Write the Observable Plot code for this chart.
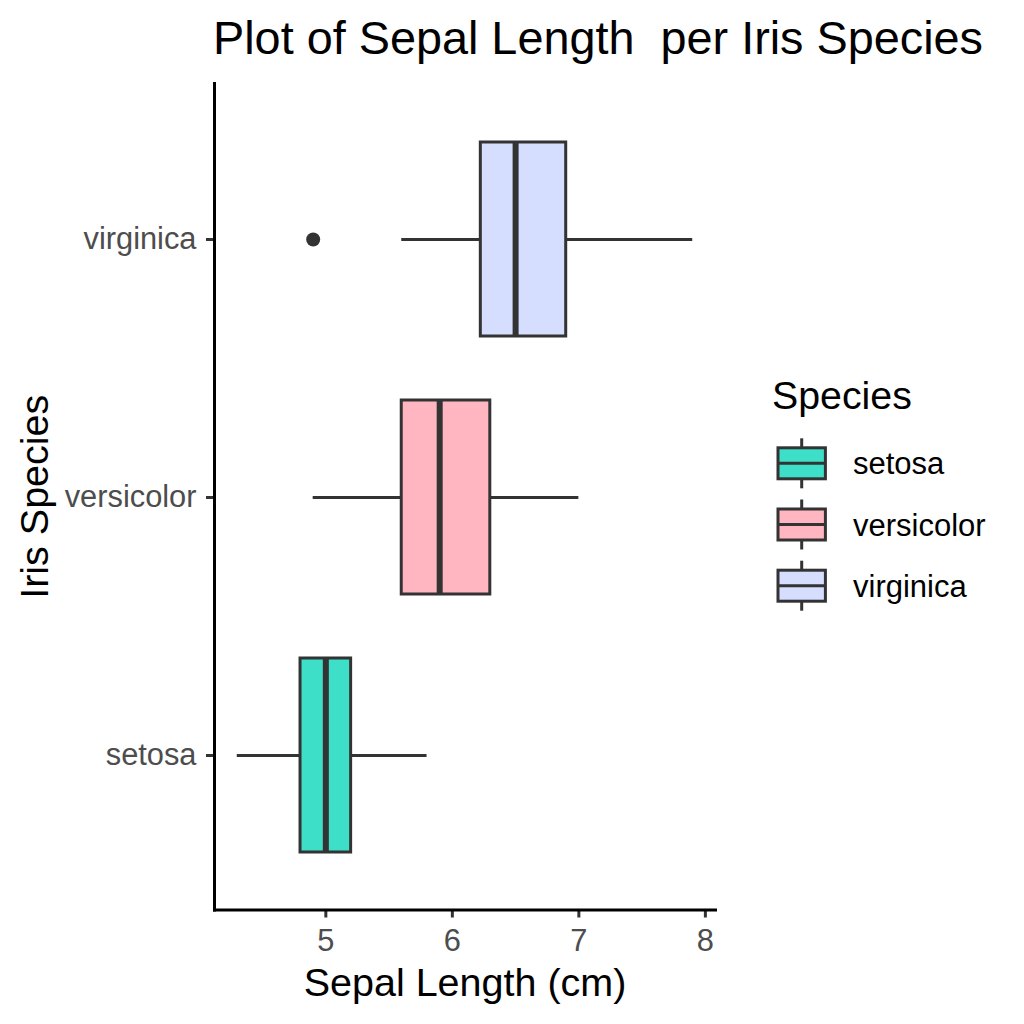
<!DOCTYPE html>
<html>
<head>
<meta charset="utf-8">
<script src="https://cdn.jsdelivr.net/npm/d3@7"></script>
<script src="https://cdn.jsdelivr.net/npm/@observablehq/plot@0.6"></script>
<style>
  html, body { margin: 0; padding: 0; background: #fff; }
  #root { position: relative; width: 1024px; height: 1024px; overflow: hidden; font-family: "Liberation Sans", Arial, sans-serif; }
  #title { position: absolute; left: 213px; top: 15px; font-size: 46.8px; line-height: 46.8px; color: #000; white-space: pre; }
  #chart { position: absolute; left: 0; top: 70px; }
  #legend { position: absolute; left: 0; top: 0; }
</style>
</head>
<body>
<div id="root">
  <div id="title">Plot of Sepal Length  per Iris Species</div>
  <div id="chart"></div>
  <svg id="legend" width="1024" height="1024" style="pointer-events:none"></svg>
</div>
<script>
// ---- data ----
const species = ["setosa", "versicolor", "virginica"];
const lowerWhisker = [4.3, 4.9, 5.6];
const q1 = [4.8, 5.6, 6.225];
const medians = [5.0, 5.9, 6.5];
const q3 = [5.2, 6.3, 6.9];
const upperWhisker = [5.8, 7.0, 7.9];
const outlierSpecies = ["virginica"];
const outlierValues = [4.9];
const fills = ["#3DDFC8", "#FFB6C1", "#D6DEFF"];
const xTicks = [5, 6, 7, 8];
const xTitle = "Sepal Length (cm)";
const yTitle = "Iris Species";
const legendTitle = "Species";

const rows = species.map((s, i) => ({
  species: s, lower: lowerWhisker[i], q1: q1[i], median: medians[i], q3: q3[i], upper: upperWhisker[i]
}));
const outliers = outlierSpecies.map((s, i) => ({species: s, value: outlierValues[i]}));

const font = "Liberation Sans, Arial, sans-serif";
const ink = "#333333";

const plot = Plot.plot({
  width: 1024,
  height: 954,
  marginLeft: 214,
  marginRight: 309,
  marginTop: 13,
  marginBottom: 114.5,
  style: {fontFamily: font, fontSize: "30.8px", background: "transparent", overflow: "visible"},
  x: {domain: [4.12, 8.08]},
  y: {domain: [...species].reverse(), paddingInner: 0.25, paddingOuter: 0.225},
  color: {domain: species, range: fills},
  marks: [
    Plot.ruleY(rows, {y: "species", x1: "lower", x2: "q1", stroke: ink, strokeWidth: 3}),
    Plot.ruleY(rows, {y: "species", x1: "q3", x2: "upper", stroke: ink, strokeWidth: 3}),
    Plot.barX(rows, {y: "species", x1: "q1", x2: "q3", fill: "species", stroke: ink, strokeWidth: 3}),
    Plot.tickX(rows, {y: "species", x: "median", stroke: ink, strokeWidth: 6}),
    Plot.dot(outliers, {x: "value", y: "species", r: 7, fill: ink, stroke: null}),
    Plot.axisX({ticks: xTicks, tickFormat: d => String(d), tickSize: 8, tickPadding: 11, stroke: ink, strokeWidth: 3, fill: "#4D4D4D", fontSize: 30.8, label: null}),
    Plot.axisY({tickSize: 8, tickPadding: 10, stroke: ink, strokeWidth: 3, fill: "#4D4D4D", fontSize: 30.8, label: null}),
    Plot.frame({anchor: "bottom", stroke: "#000", strokeWidth: 3}),
    Plot.frame({anchor: "left", stroke: "#000", strokeWidth: 3}),
    Plot.text([xTitle], {text: d => d, frameAnchor: "bottom", dy: 73.3, fontSize: 39.5, fill: "#000", lineAnchor: "middle", textAnchor: "middle"}),
    Plot.text([yTitle], {text: d => d, frameAnchor: "left", dx: -179, rotate: -90, fontSize: 39.5, fill: "#000", lineAnchor: "middle", textAnchor: "middle"})
  ]
});
document.getElementById("chart").appendChild(plot);

// ---- legend (boxplot keys) ----
const lg = d3.select("#legend");
lg.append("text").attr("x", 772).attr("y", 409).attr("font-family", font).attr("font-size", 39.3).attr("fill", "#000").text(legendTitle);
const keyY = d3.scalePoint().domain(species).range([463.3, 585.7]);
const colorOf = d3.scaleOrdinal().domain(species).range(fills);
const kx = 801.7;
species.forEach(s => {
  const cy = keyY(s);
  const g = lg.append("g");
  g.append("line").attr("x1", kx).attr("x2", kx).attr("y1", cy - 25).attr("y2", cy + 25).attr("stroke", ink).attr("stroke-width", 3);
  g.append("rect").attr("x", kx - 23.7).attr("y", cy - 15.5).attr("width", 47.4).attr("height", 31)
    .attr("fill", colorOf(s)).attr("stroke", ink).attr("stroke-width", 3);
  g.append("line").attr("x1", kx - 23.7).attr("x2", kx + 23.7).attr("y1", cy).attr("y2", cy).attr("stroke", ink).attr("stroke-width", 3);
  g.append("text").attr("x", 853).attr("y", cy + 11).attr("font-family", font).attr("font-size", 31).attr("fill", "#000").text(s);
});
</script>
</body>
</html>
